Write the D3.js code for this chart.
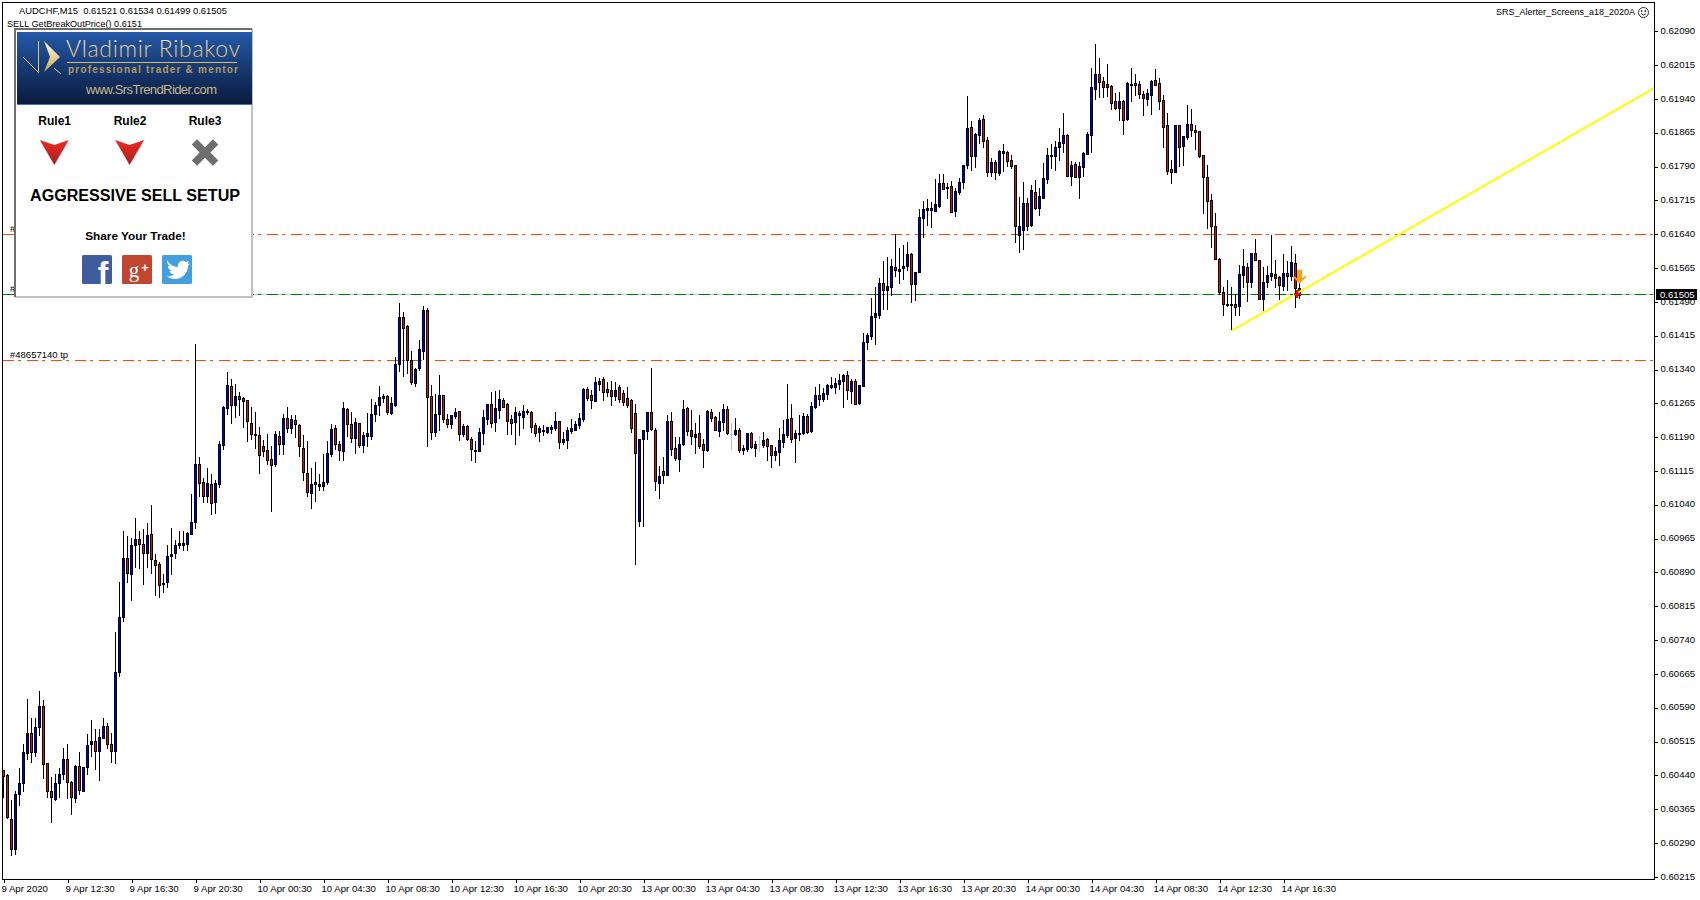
<!DOCTYPE html>
<html><head><meta charset="utf-8">
<style>html,body{margin:0;padding:0;background:#fff}svg{display:block}text{font-family:"Liberation Sans",Arial,sans-serif}</style>
<script src="https://cdn.jsdelivr.net/npm/d3@7"></script></head><body>
<svg id="c" width="1700" height="900"></svg>
<script>
// prices in 1/100000 units
const highs=[60453,60444,60385,60405,60456,60509,60610,60567,60568,60628,60607,60468,60436,60444,60456,60500,60509,60427,60464,60491,60459,60531,60562,60543,60544,
60568,60557,60533,60759,60870,60983,60970,60966,61010,60983,60986,61000,61039,60932,60914,60887,60952,60989,60963,60983,60982,60979,61065,61396,61145,
61099,61122,61109,61094,61181,61260,61334,61319,61308,61290,61279,61273,61258,61245,61212,61183,61196,61171,61204,61203,61242,61256,61239,61240,61219,
61194,61181,61122,61134,61108,61152,61181,61219,61216,61181,61269,61254,61245,61232,61221,61201,61243,61274,61268,61303,61285,61283,61279,61367,61487,
61467,61438,61381,61343,61405,61481,61476,61305,61285,61327,61283,61241,61239,61254,61247,61219,61216,61190,61181,61210,61250,61263,61290,61292,61294,
61276,61265,61239,61256,61247,61261,61252,61247,61221,61214,61216,61212,61216,61245,61227,61201,61212,61230,61227,61243,61298,61301,61294,61323,61321,
61323,61312,61314,61312,61305,61294,61301,61274,61263,61187,61205,61245,61343,61210,61127,61147,61239,61245,61190,61190,61272,61256,61250,61221,61239,
61187,61250,61252,61236,61245,61263,61259,61221,61232,61210,61172,61200,61201,61181,61192,61201,61188,61172,61168,61210,61228,61307,61263,61205,61239,
61243,61241,61268,61301,61307,61299,61307,61323,61321,61330,61330,61336,61319,61319,61305,61421,61421,61498,61523,61543,61581,61589,61585,61641,61609,
61616,61623,61598,61556,61696,61714,61718,61711,61762,61773,61773,61753,61758,61742,61764,61793,61947,61891,61864,61898,61904,61856,61809,61804,61827,
61840,61824,61816,61793,61722,61756,61720,61749,61760,61742,61798,61831,61840,61847,61875,61909,61862,61802,61800,61800,61822,61867,62009,62062,62031,
61989,62018,61971,61953,61955,61938,61978,62009,61995,61980,61958,61962,61982,62006,61986,61949,61909,61804,61882,61882,61858,61926,61918,61882,61869,
61816,61793,61729,61687,61587,61522,61538,61522,61507,61571,61607,61576,61598,61629,61582,61567,61569,61638,61582,61547,61596,61580,61613,61596,61534];
const bodyTops=[60451,60442,60344,60399,60424,60493,60533,60533,60548,60593,60593,60468,60406,60424,60444,60477,60477,60426,60462,60462,60458,60508,60517,60517,60526,
60550,60550,60510,60670,60792,60923,60923,60950,60965,60965,60954,60974,60976,60918,60909,60866,60927,60932,60952,60956,60955,60977,61003,61130,61130,
61090,61088,61086,61088,61174,61256,61305,61303,61281,61281,61277,61272,61221,61196,61194,61170,61161,61141,61197,61192,61232,61232,61230,61228,61217,
61165,61110,61086,61090,61086,61090,61154,61208,61210,61176,61254,61252,61219,61223,61221,61194,61199,61241,61261,61279,61281,61281,61265,61352,61456,
61456,61436,61361,61341,61385,61472,61472,61281,61241,61283,61283,61230,61239,61245,61247,61214,61214,61185,61162,61201,61234,61263,61263,61254,61274,
61272,61263,61230,61245,61243,61247,61247,61245,61216,61210,61207,61212,61212,61227,61225,61185,61205,61210,61219,61232,61296,61296,61283,61312,61314,
61318,61296,61294,61294,61301,61287,61278,61272,61243,61187,61205,61245,61245,61205,61105,61116,61227,61227,61167,61176,61252,61254,61207,61196,61199,
61174,61247,61245,61234,61225,61252,61252,61198,61205,61205,61165,61199,61199,61174,61174,61183,61185,61172,61159,61183,61197,61230,61232,61199,61199,
61236,61236,61259,61283,61283,61287,61305,61305,61310,61316,61328,61328,61314,61314,61305,61401,61416,61458,61465,61532,61532,61525,61569,61567,61563,
61569,61596,61596,61556,61678,61696,61698,61698,61706,61753,61753,61745,61747,61736,61756,61793,61876,61878,61862,61893,61896,61849,61800,61800,61824,
61824,61822,61804,61793,61658,61709,61709,61738,61733,61724,61764,61815,61816,61833,61844,61860,61860,61793,61795,61791,61820,61862,61966,61995,61995,
61980,61973,61969,61935,61935,61935,61975,61973,61975,61973,61951,61953,61980,61982,61975,61938,61882,61784,61882,61882,61858,61884,61884,61871,61869,
61816,61767,61716,61658,61585,61511,61486,61486,61485,61551,61569,61567,61598,61598,61582,61534,61549,61554,61551,61545,61554,61554,61578,61576,61521];
const bodyBottoms=[60439,60348,60277,60277,60399,60423,60490,60492,60492,60547,60465,60405,60392,60388,60423,60443,60425,60392,60390,60408,60405,60459,60510,60494,60494,
60524,60510,60494,60494,60669,60791,60889,60887,60951,60953,60934,60933,60920,60906,60862,60864,60869,60927,60933,60951,60952,60953,60975,61002,61089,
61059,61059,61044,61046,61086,61172,61255,61261,61261,61274,61270,61226,61196,61195,61150,61159,61140,61128,61130,61174,61174,61210,61210,61219,61170,
61112,61068,61066,61086,61081,61081,61090,61152,61174,61161,61159,61219,61188,61188,61172,61172,61192,61192,61241,61261,61277,61245,61243,61261,61352,
61432,61361,61312,61310,61343,61381,61279,61201,61201,61241,61230,61219,61219,61236,61196,61196,61187,61163,61161,61159,61199,61230,61221,61223,61250,
61258,61225,61221,61223,61239,61234,61246,61212,61199,61201,61204,61201,61208,61210,61179,61179,61183,61203,61207,61216,61230,61278,61272,61270,61307,
61290,61290,61281,61281,61274,61267,61261,61210,61156,61005,61185,61203,61208,61092,61088,61107,61107,61163,61143,61141,61176,61203,61192,61190,61170,
61161,61161,61232,61205,61203,61223,61199,61197,61196,61161,61161,61163,61168,61165,61173,61172,61170,61150,61150,61157,61179,61194,61185,61188,61196,
61199,61201,61203,61256,61274,61274,61285,61301,61301,61307,61314,61294,61292,61263,61265,61303,61401,61414,61456,61461,61516,61516,61523,61561,61558,
61565,61569,61530,61530,61556,61676,61694,61693,61691,61702,61740,61743,61690,61691,61733,61756,61793,61813,61813,61860,61847,61778,61778,61778,61776,
61820,61802,61791,61658,61638,61649,61658,61660,61698,61698,61720,61762,61813,61813,61833,61842,61769,61769,61767,61767,61789,61818,61860,61962,61978,
61966,61966,61931,61920,61920,61893,61895,61972,61972,61951,61942,61940,61949,61971,61935,61878,61780,61778,61778,61833,61835,61855,61871,61867,61813,
61767,61713,61658,61585,61511,61485,61483,61483,61479,61480,61549,61534,61534,61582,61496,61496,61534,61547,61542,61527,61525,61547,61547,61520,61505];
const lows=[60392,60345,60264,60265,60374,60405,60476,60470,60484,60529,60434,60392,60337,60385,60392,60433,60390,60354,60381,60399,60405,60443,60482,60454,60430,
60523,60500,60470,60467,60660,60782,60869,60829,60902,60900,60864,60902,60889,60841,60835,60846,60857,60886,60922,60944,60939,60940,60975,60988,61059,
61046,61046,61019,61023,61080,61163,61242,61221,61235,61239,61212,61181,61185,61165,61110,61148,61131,61026,61126,61152,61152,61202,61199,61191,61148,
61094,61059,61032,61048,61072,61074,61086,61148,61163,61139,61139,61192,61179,61154,61168,61157,61170,61185,61225,61239,61268,61241,61241,61259,61336,
61325,61332,61308,61303,61340,61363,61170,61185,61192,61205,61223,61212,61210,61232,61183,61192,61183,61139,61136,61159,61176,61219,61212,61203,61232,
61256,61196,61196,61174,61194,61210,61242,61201,61192,61181,61194,61199,61199,61207,61167,61176,61167,61199,61205,61210,61225,61272,61254,61270,61294,
61272,61281,61261,61272,61267,61261,61258,61201,60908,60994,60994,61185,61205,61074,61056,61088,61107,61150,61139,61114,61172,61194,61176,61154,61165,
61123,61159,61225,61205,61192,61205,61197,61163,61194,61157,61152,61159,61165,61148,61159,61168,61139,61125,61139,61128,61168,61190,61179,61134,61183,
61196,61199,61201,61254,61261,61270,61274,61299,61287,61296,61256,61274,61265,61263,61263,61303,61385,61407,61396,61454,61474,61474,61505,61547,61532,
61541,61561,61490,61494,61556,61634,61661,61656,61691,61700,61740,61720,61689,61680,61729,61742,61787,61782,61789,61842,61833,61769,61769,61762,61771,
61780,61791,61787,61622,61600,61607,61649,61658,61696,61682,61720,61753,61787,61782,61804,61822,61769,61749,61767,61720,61769,61818,61822,61940,61944,
61944,61946,61918,61918,61893,61862,61893,61935,61949,61942,61904,61926,61907,61971,61918,61833,61773,61753,61778,61791,61793,61851,61858,61829,61811,
61687,61653,61611,61585,61507,61462,61480,61427,61460,61462,61522,61491,61522,61582,61496,61467,61522,61538,61522,61496,61516,61516,61538,61478,61499];
const directions="RRRBBBBRBBRRRBBBRRBRBBBRB"+"BRRBBBRBBRRBRRRBBBBBBBBBR"+"RBRBBBBRBRRRRRRRRRBRBRBRR"+"RRBRBBBBRRBRRBRBBBBBBRBBB"+"RRRBBBRRBBRRBBRBRRRBBBRBB"+"RRRBBBRRRBBBBBRBBBBBBRRBB"+"RRRBRRRRRBBBRRBRBRRBBRRBR"+"RBRRBBRRBRBBRBRBRRBBBBRBB"+"BRBBRBBBBBBRBRBBBBBBRBBRB"+"BBRBBBBBBBRBRBBBBRBBRRBRB"+"BRRRBBRBRBBBBBBBRBRBBBBBR"+"RRRRBRBBRRRBBRRRRRBRBBRRR"+"RRRRRRBRRBBRBRRBBBRRBRBRR";
const greyBars=[182,189];
const timeLabels=["9 Apr 2020","9 Apr 12:30","9 Apr 16:30","9 Apr 20:30","10 Apr 00:30","10 Apr 04:30","10 Apr 08:30","10 Apr 12:30","10 Apr 16:30","10 Apr 20:30","13 Apr 00:30","13 Apr 04:30","13 Apr 08:30","13 Apr 12:30","13 Apr 16:30","13 Apr 20:30","14 Apr 00:30","14 Apr 04:30","14 Apr 08:30","14 Apr 12:30","14 Apr 16:30"];
const priceTicks=[62090,62015,61940,61865,61790,61715,61640,61565,61490,61415,61340,61265,61190,61115,61040,60965,60890,60815,60740,60665,60590,60515,60440,60365,60290,60215];
const tpLevels=[61640,61361];
const bidLevel=61505;
const trendStart=[307,61426], trendEnd=[412.6,61964];
const sellMarkerBar=323, arrowPrice=61547;

const svg=d3.select("#c");
const x=d3.scaleLinear().domain([0,412.6]).range([3.5,1654]);
const y=d3.scaleLinear().domain([62090,60215]).range([31.3,876.9]);
const PL=3,PR=1654,PT=2,PB=879;
const BLUE="#0000cd",RED="#d01414";

// plot frame
svg.append("rect").attr("x",PL-.5).attr("y",PT+.5).attr("width",PR-PL+1).attr("height",PB-PT).attr("fill","#fff").attr("stroke","#000").attr("shape-rendering","crispEdges");

// horizontal levels (behind candles)
const lv=svg.append("g").attr("shape-rendering","crispEdges");
lv.selectAll("line.tp").data(tpLevels).join("line").attr("x1",PL).attr("x2",PR).attr("y1",d=>Math.round(y(d))+.5).attr("y2",d=>Math.round(y(d))+.5).attr("stroke","#ff4500").attr("stroke-dasharray","11 4 3 6");
const by=Math.round(y(bidLevel))-.5;
lv.append("line").attr("x1",PL).attr("x2",PR).attr("y1",by).attr("y2",by).attr("stroke","#c0c0c0");
lv.append("line").attr("x1",PL).attr("x2",PR).attr("y1",by).attr("y2",by).attr("stroke","#007a00").attr("stroke-dasharray","11 4 3 6");

svg.append("text").attr("x",10).attr("y",358).attr("font-size",9.5).text("#48657140 tp");
svg.append("text").attr("x",10).attr("y",232).attr("font-size",9.5).text("#");
svg.append("text").attr("x",10).attr("y",292).attr("font-size",9.5).text("#");

// candles
const idx=d3.range(highs.length);
const cg=svg.append("g").attr("shape-rendering","crispEdges");
const grey=i=>greyBars.includes(i);
cg.selectAll("line.w").data(idx).join("line").attr("x1",i=>x(i)).attr("x2",i=>x(i))
  .attr("y1",i=>Math.round(y(highs[i]))).attr("y2",i=>Math.round(y(lows[i]))+1)
  .attr("stroke",i=>grey(i)?"#c0c0c0":"#000");
cg.selectAll("rect.b").data(idx.filter(i=>!grey(i))).join("rect")
  .attr("x",i=>x(i)-1).attr("width",2)
  .attr("y",i=>Math.round(y(bodyTops[i]))+.5)
  .attr("height",i=>Math.max(1,Math.round(y(bodyBottoms[i]))-Math.round(y(bodyTops[i]))))
  .attr("fill",i=>directions[i]==="B"?BLUE:RED).attr("stroke","#000");
cg.selectAll("line.g").data(idx.filter(grey)).join("line").attr("x1",i=>x(i)-1.5).attr("x2",i=>x(i)+1.5)
  .attr("y1",i=>Math.round(y(bodyTops[i]))+.5).attr("y2",i=>Math.round(y(bodyTops[i]))+.5).attr("stroke","#c0c0c0");

// trend line
svg.append("line").attr("x1",x(trendStart[0])).attr("y1",y(trendStart[1])).attr("x2",x(trendEnd[0])).attr("y2",y(trendEnd[1])).attr("stroke","#ffff00").attr("stroke-width",2).attr("shape-rendering","crispEdges");

// sell markers
const mx=x(sellMarkerBar), my=y(bidLevel)-1;
svg.append("path").attr("transform",`translate(${mx+4},${y(arrowPrice)})`).attr("d","M-6.5,-1 L-2.5,2 V-6.5 H2.5 V2 L6.5,-1 V1 L0,7.5 L-6.5,1 Z").attr("fill","#ff9c14");
svg.append("path").attr("transform",`translate(${mx+1.5},${my})`).attr("d","M-3.5,-1 H-1 V-4 H1 V-1 H3.5 V1 H1 V4 H-1 V1 H-3.5 Z").attr("fill","#ff0000").attr("shape-rendering","crispEdges");

// axes
const ay=svg.append("g").attr("transform",`translate(${PR+.5},0)`).attr("shape-rendering","crispEdges")
 .call(d3.axisRight(y).tickValues(priceTicks).tickSize(3).tickPadding(3).tickFormat(d=>(d/1e5).toFixed(5)));
ay.select(".domain").remove();
ay.selectAll("text").attr("font-size",9.6).attr("fill","#000").attr("dy","0.22em").attr("style",'font-family:"Liberation Sans"');
ay.selectAll("line").attr("stroke","#000");

const ax=svg.append("g").attr("transform",`translate(0,${PB+.5})`).attr("shape-rendering","crispEdges")
 .call(d3.axisBottom(x).tickValues(timeLabels.map((_,i)=>i*16)).tickSize(3).tickPadding(3).tickFormat((d,i)=>timeLabels[i]));
ax.select(".domain").remove();
ax.selectAll("text").attr("font-size",9.6).attr("fill","#000").attr("text-anchor","start").attr("dx",-2.5).attr("style",'font-family:"Liberation Sans"');
ax.selectAll("line").attr("stroke","#000");

// current price tag
svg.append("rect").attr("x",1656).attr("y",289).attr("width",41).attr("height",11).attr("fill","#000");
svg.append("text").attr("x",1660).attr("y",298).attr("font-size",9.6).attr("fill","#fff").text((bidLevel/1e5).toFixed(5));

// header texts
svg.append("text").attr("x",19).attr("y",14).attr("font-size",9.6).attr("xml:space","preserve").attr("textLength",208).attr("lengthAdjust","spacingAndGlyphs").text("AUDCHF,M15  0.61521 0.61534 0.61499 0.61505");
svg.append("text").attr("x",7).attr("y",27).attr("font-size",9.6).attr("textLength",135).attr("lengthAdjust","spacingAndGlyphs").text("SELL GetBreakOutPrice() 0.6151");
svg.append("text").attr("x",1496).attr("y",15).attr("font-size",9.6).attr("textLength",139).attr("lengthAdjust","spacingAndGlyphs").text("SRS_Alerter_Screens_a18_2020A");
const sm=svg.append("g").attr("transform","translate(1643.5,12.5)").attr("fill","none").attr("stroke","#000").attr("stroke-width",.8);
sm.append("circle").attr("r",5);
sm.append("circle").attr("cx",-1.8).attr("cy",-1.5).attr("r",.5).attr("fill","#000");
sm.append("circle").attr("cx",1.8).attr("cy",-1.5).attr("r",.5).attr("fill","#000");
sm.append("path").attr("d","M-2.5,1.2 Q0,4 2.5,1.2");

// side panel
const defs=svg.append("defs");
const g1=defs.append("linearGradient").attr("id","hd").attr("x1",0).attr("x2",0).attr("y1",0).attr("y2",1);
g1.append("stop").attr("offset","0").attr("stop-color","#2459a8");
g1.append("stop").attr("offset","1").attr("stop-color","#0a1a3c");
const g2=defs.append("linearGradient").attr("id","gold").attr("x1",0).attr("x2",0).attr("y1",0).attr("y2",1);
g2.append("stop").attr("offset","0").attr("stop-color","#fffbe8");
g2.append("stop").attr("offset","1").attr("stop-color","#c8a94e");
const g3=defs.append("linearGradient").attr("id","red").attr("x1",0).attr("x2",0).attr("y1",0).attr("y2",1);
g3.append("stop").attr("offset","0").attr("stop-color","#ee2a20");
g3.append("stop").attr("offset","1").attr("stop-color","#a82020");

const p=svg.append("g");
p.append("rect").attr("x",14).attr("y",28).attr("width",239).attr("height",270).attr("fill","#fff");
p.append("path").attr("d","M252,29 V297 H15").attr("fill","none").attr("stroke","#c0c0c0").attr("stroke-width",2);
p.append("path").attr("d","M15,297 V29 H252").attr("fill","none").attr("stroke","#6e6e6e").attr("stroke-width",2);
p.append("rect").attr("x",17).attr("y",32).attr("width",235).attr("height",72).attr("fill","url(#hd)");
p.append("rect").attr("x",17).attr("y",104).attr("width",235).attr("height",1).attr("fill","#3f74c4");
p.append("path").attr("d","M23,57 L39,73 M38.5,41 V73 M54,68 L61,74").attr("stroke","#e0c870").attr("fill","none");
p.append("path").attr("d","M44,41 L60,57 L44,72 L50,57 Z").attr("fill","url(#gold)");
p.append("text").attr("x",66).attr("y",57).attr("font-size",23).attr("fill","url(#gold)").attr("style",'font-family:Lato;font-weight:300').attr("textLength",174).text("Vladimir Ribakov");
p.append("rect").attr("x",67).attr("y",62).attr("width",170).attr("height",1).attr("fill","#d8bd6a");
p.append("text").attr("x",68).attr("y",73).attr("font-size",10).attr("font-weight","bold").attr("fill","#b09a5c").attr("textLength",170).text("professional trader & mentor");
p.append("text").attr("x",86).attr("y",94).attr("font-size",13).attr("fill","#c4b98c").attr("textLength",131).text("www.SrsTrendRider.com");

const ruleNames=["Rule1","Rule2","Rule3"], ruleX=[54.7,130,205];
ruleNames.forEach((r,i)=>p.append("text").attr("x",ruleX[i]).attr("y",125).attr("text-anchor","middle").attr("font-size",12).attr("font-weight","bold").text(r));
[0,1].forEach(i=>p.append("path").attr("transform",`translate(${ruleX[i]-.4},0)`).attr("d","M-14.5,140 L0,145 L14.5,140 L0,165 Z").attr("fill","url(#red)"));
p.append("path").attr("transform",`translate(${ruleX[2]},152.5) rotate(45)`).attr("d","M-3.8,-15 H3.8 V-3.8 H15 V3.8 H3.8 V15 H-3.8 V3.8 H-15 V-3.8 H-3.8 Z").attr("fill","#6e6e6e");
p.append("text").attr("x",135).attr("y",201).attr("text-anchor","middle").attr("font-size",16).attr("font-weight","bold").attr("textLength",210).attr("lengthAdjust","spacingAndGlyphs").text("AGGRESSIVE SELL SETUP");
p.append("text").attr("x",135.5).attr("y",240).attr("text-anchor","middle").attr("font-size",11.8).attr("font-weight","bold").text("Share Your Trade!");

const fb=p.append("g");
fb.append("rect").attr("x",82).attr("y",255).attr("width",30).attr("height",29).attr("rx",1.5).attr("fill","#3f5d9c");
fb.append("text").attr("x",103).attr("y",284).attr("text-anchor","middle").attr("font-size",32).attr("font-weight","bold").attr("fill","#fff").text("f");
const gp=p.append("g");
gp.append("rect").attr("x",122).attr("y",255).attr("width",30).attr("height",29).attr("rx",1.5).attr("fill","#c2452f");
gp.append("text").attr("x",134).attr("y",277).attr("text-anchor","middle").attr("font-size",21).attr("fill","#fff").attr("style",'font-family:"Liberation Serif"').text("g");
gp.append("text").attr("x",145).attr("y",272).attr("text-anchor","middle").attr("font-size",13).attr("font-weight","bold").attr("fill","#fff").text("+");
const tw=p.append("g");
tw.append("rect").attr("x",162).attr("y",255).attr("width",30).attr("height",29).attr("rx",1.5).attr("fill","#439fdf");
tw.append("path").attr("d","M167,260 C170,265 174,267 178,267 C177,262 183,259 186,262 L189,261 L187.5,264 L190,263.5 L188,266 C188,273 182,279 175,279 C172,279 169,278 167,276.5 C170,276.5 172,276 174,274.5 C171,274 170,272.5 169.5,271 L172,271 C169,270 168,268 168,266 L170,266.5 C168,265 167,263 167,260 Z").attr("fill","#fff");
</script></body></html>
